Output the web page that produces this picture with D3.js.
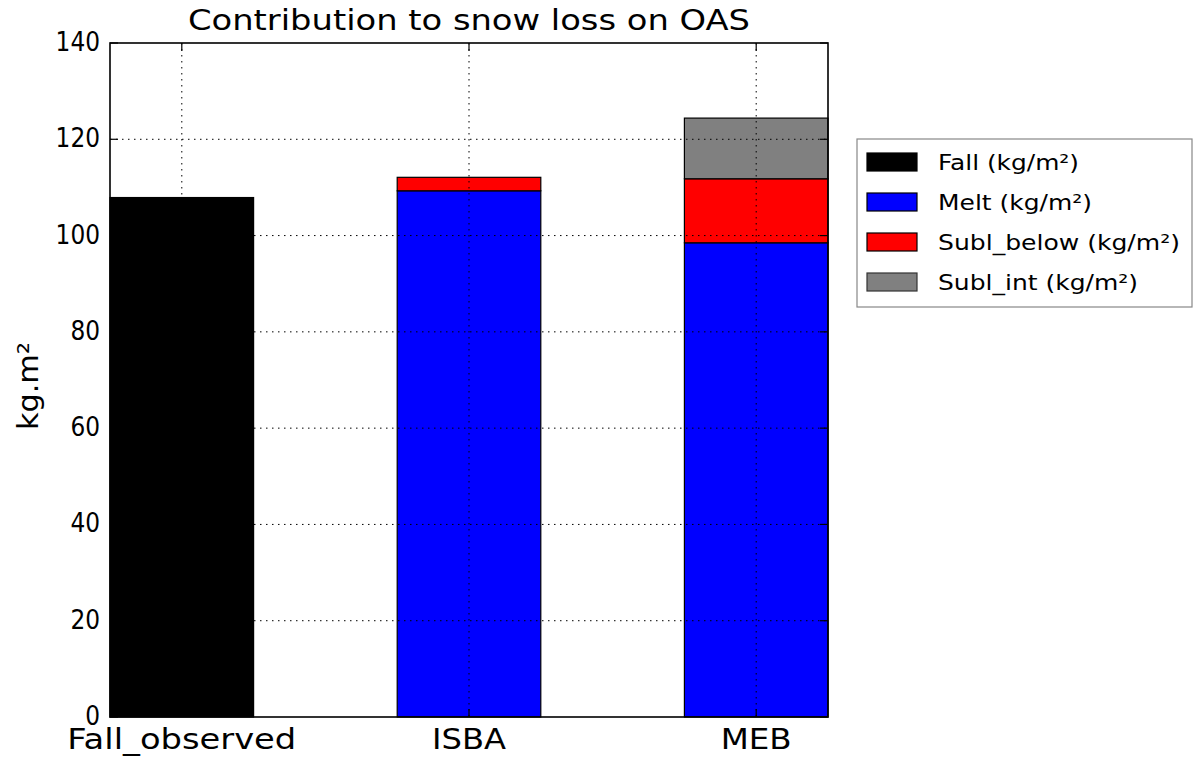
<!DOCTYPE html>
<html>
<head>
<meta charset="utf-8">
<script src="https://cdn.jsdelivr.net/npm/d3@7"></script>
<style>
  body { margin: 0; background: #fff; }
  svg { display: block; }
  text { font-family: "DejaVu Sans", sans-serif; fill: #000; }
</style>
</head>
<body>
<svg id="chart" width="1195" height="763"></svg>
<script>
// Snow loss contributions (kg/m²) per source
const categories = ["Fall_observed", "ISBA", "MEB"];
const seriesNames = ["Fall (kg/m²)", "Melt (kg/m²)", "Subl_below (kg/m²)", "Subl_int (kg/m²)"];
const fallValues = [107.9, 0, 0];
const meltValues = [0, 109.3, 98.5];
const sublBelowValues = [0, 2.8, 13.3];
const sublIntValues = [0, 0, 12.6];
const yTicks = [0, 20, 40, 60, 80, 100, 120, 140];

const colors = ["#000000", "#0000ff", "#ff0000", "#808080"];
const edgeColors = ["#000000", "#000000", "#000000", "#000000"];

const svg = d3.select("#chart");
const plot = { left: 110, right: 828, top: 43, bottom: 717 };

const x = d3.scaleLinear().domain([-0.25, 2.25]).range([plot.left, plot.right]);
const y = d3.scaleLinear().domain([0, 140]).range([plot.bottom, plot.top]);
const barW = 0.5;

// stacked layers
const series = [fallValues, meltValues, sublBelowValues, sublIntValues];
const layers = [];
categories.forEach((c, i) => {
  let base = 0;
  series.forEach((vals, s) => {
    const v = vals[i];
    if (v > 0) {
      layers.push({ i, s, y0: base, y1: base + v });
      base += v;
    }
  });
});

svg.append("g").selectAll("rect").data(layers).join("rect")
  .attr("x", d => x(d.i - barW / 2))
  .attr("width", d => x(d.i + barW / 2) - x(d.i - barW / 2))
  .attr("y", d => y(d.y1))
  .attr("height", d => y(d.y0) - y(d.y1))
  .attr("fill", d => colors[d.s])
  .attr("stroke", d => edgeColors[d.s])
  .attr("stroke-width", 1.2);

// dotted grid above the bars
const grid = svg.append("g").attr("stroke", "#000").attr("stroke-width", 1)
  .attr("stroke-dasharray", "1.5,4.5");
grid.selectAll("line.h").data(yTicks.filter(t => t > 0 && t < 140)).join("line")
  .attr("class", "h")
  .attr("x1", plot.left).attr("x2", plot.right)
  .attr("y1", d => y(d)).attr("y2", d => y(d));
grid.selectAll("line.v").data(d3.range(categories.length)).join("line")
  .attr("class", "v")
  .attr("x1", d => x(d)).attr("x2", d => x(d))
  .attr("y1", plot.top).attr("y2", plot.bottom);

// inward tick marks on all four sides
const ticks = svg.append("g").attr("stroke", "#000").attr("stroke-width", 1.2);
const tl = 8;
yTicks.forEach(t => {
  ticks.append("line").attr("x1", plot.left).attr("x2", plot.left + tl).attr("y1", y(t)).attr("y2", y(t));
  ticks.append("line").attr("x1", plot.right).attr("x2", plot.right - tl).attr("y1", y(t)).attr("y2", y(t));
});
d3.range(categories.length).forEach(i => {
  ticks.append("line").attr("x1", x(i)).attr("x2", x(i)).attr("y1", plot.top).attr("y2", plot.top + tl);
  ticks.append("line").attr("x1", x(i)).attr("x2", x(i)).attr("y1", plot.bottom).attr("y2", plot.bottom - tl);
});

// frame
svg.append("rect")
  .attr("x", plot.left).attr("y", plot.top)
  .attr("width", plot.right - plot.left).attr("height", plot.bottom - plot.top)
  .attr("fill", "none").attr("stroke", "#000").attr("stroke-width", 1.6);

// y tick labels
svg.append("g").selectAll("text").data(yTicks).join("text")
  .attr("x", plot.left - 10)
  .attr("y", d => y(d) + 8)
  .attr("text-anchor", "end")
  .attr("font-size", 26)
  .attr("textLength", d => String(d).length * 14.8)
  .attr("lengthAdjust", "spacingAndGlyphs")
  .text(d => d);

// category labels
const catWidths = [229, 74, 71];
svg.append("g").selectAll("text").data(categories).join("text")
  .attr("x", (d, i) => x(i) - catWidths[i] / 2)
  .attr("y", 749)
  .attr("font-size", 27.5)
  .attr("textLength", (d, i) => catWidths[i])
  .attr("lengthAdjust", "spacingAndGlyphs")
  .text(d => d);

// title
svg.append("text")
  .attr("x", 188).attr("y", 30)
  .attr("font-size", 27.5)
  .attr("textLength", 562)
  .attr("lengthAdjust", "spacingAndGlyphs")
  .text("Contribution to snow loss on OAS");

// y axis label
svg.append("text")
  .attr("transform", "translate(38,430) rotate(-90)")
  .attr("font-size", 28)
  .attr("textLength", 88)
  .attr("lengthAdjust", "spacingAndGlyphs")
  .text("kg.m²");

// legend
const legend = svg.append("g");
legend.append("rect")
  .attr("x", 857).attr("y", 139).attr("width", 335).attr("height", 168)
  .attr("fill", "#fff").attr("stroke", "#888").attr("stroke-width", 1.2);
const legendWidths = [141, 154, 242, 200];
seriesNames.forEach((name, k) => {
  const cy = 162 + k * 40;
  legend.append("rect")
    .attr("x", 867).attr("y", cy - 9).attr("width", 50).attr("height", 18)
    .attr("fill", colors[k]).attr("stroke", k === 3 ? "#333" : "#000").attr("stroke-width", 1.2);
  legend.append("text")
    .attr("x", 938).attr("y", cy + 8)
    .attr("font-size", 22)
    .attr("textLength", legendWidths[k])
    .attr("lengthAdjust", "spacingAndGlyphs")
    .text(name);
});
</script>
</body>
</html>
